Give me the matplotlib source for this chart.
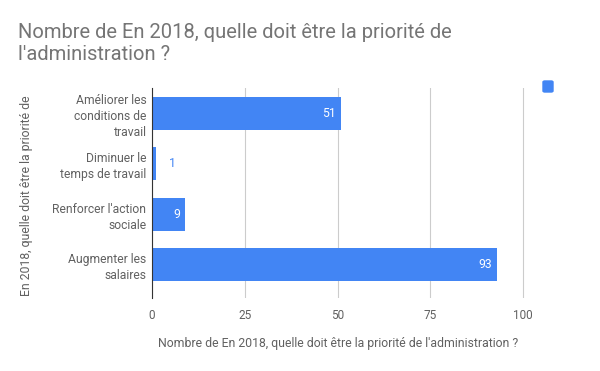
import matplotlib
matplotlib.use("Agg")
import matplotlib.pyplot as plt
from matplotlib.patches import FancyBboxPatch

plt.rcParams['font.family'] = ['Roboto', 'DejaVu Sans']

categories = ["Améliorer les\nconditions de\ntravail", "Diminuer le\ntemps de travail",
              "Renforcer l'action\nsociale", "Augmenter les\nsalaires"]
values = [51, 1, 9, 93]
xticks = [0, 25, 50, 75, 100]

title = "Nombre de En 2018, quelle doit être la priorité de\nl'administration ?"
xlabel = "Nombre de En 2018, quelle doit être la priorité de l'administration ?"
ylabel = "En 2018, quelle doit être la priorité de"

bar_color = "#4285F4"
text_grey = "#616161"

fig = plt.figure(figsize=(6, 3.71), dpi=100)
# plot area: x 152..525 px, y 88..298 px
ax = fig.add_axes([152/600, 1 - 298/371, 373/600, 210/371])

pos = list(range(len(categories)))
ax.barh(pos, values, height=0.65, color=bar_color, zorder=3)
ax.set_ylim(len(categories) - 0.5 + 8/50.5, -0.5)
ax.set_xlim(0, 100.5)

for p, v in zip(pos, values):
    if v >= 5:
        ax.text(v - 1.5, p, str(v), ha='right', va='center', color='white', fontsize=8.7, zorder=4)
    else:
        ax.text(v + 3.5, p, str(v), ha='left', va='center', color=bar_color, fontsize=8.7, zorder=4)

ax.set_yticks(pos)
ax.set_yticklabels(categories, fontsize=8.7, color=text_grey, linespacing=1.3)
ax.set_xticks(xticks)
ax.set_xticklabels([str(t) for t in xticks], fontsize=8.5, color=text_grey)
ax.tick_params(axis='y', length=0, pad=4)
ax.tick_params(axis='x', length=0, pad=8)
ax.grid(axis='x', color='#cccccc', linewidth=0.8, zorder=0)
for s in ['top', 'right', 'bottom']:
    ax.spines[s].set_visible(False)
ax.spines['left'].set_color('#333333')
ax.spines['left'].set_zorder(5)

fig.text(338/600, 1 - 344/371, xlabel, ha='center', va='center', fontsize=8.8, color=text_grey)
fig.text(27/600, 1 - 196/371, ylabel, rotation=90, ha='center', va='center', fontsize=8.8, color=text_grey)

fig.text(18/600, 1 - 44/371, title, ha='left', va='center', fontsize=14.5, color='#757575', linespacing=1.2)

# legend marker (no label)
fig.patches.append(FancyBboxPatch((543/600, 1 - 92/371), 10/600, 11/371,
                                  boxstyle="round,pad=0,rounding_size=0.003",
                                  transform=fig.transFigure, color=bar_color, figure=fig))

fig.savefig("out.png", dpi=100)
